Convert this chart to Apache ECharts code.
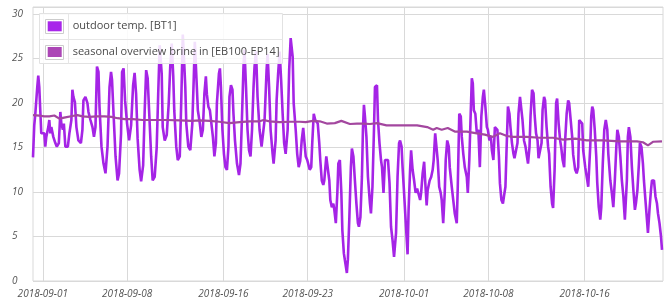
<!DOCTYPE html>
<html>
<head>
<meta charset="utf-8">
<script src="https://cdn.jsdelivr.net/npm/echarts@6/dist/echarts.min.js"></script>
<style>html,body{margin:0;padding:0;background:#fff}#c{width:672px;height:304px}</style>
</head>
<body>
<div id="c"></div>
<script>
// time in hours since 2018-09-01 00:00
const tempHours = [-19.5,-17,-15,-11,-9,-7,-5,-3,3,5,7,11,13,15,17,21,25,28,32,35,37,40,42,45,50,53,57,59,61,64,67,71,76,79,81,85,89,91,95,99,102,105,108,111,113,117,121,125,129,133,136,138,141,145,149,152,156,158,161,164,168,172,176,180,183,186,189,193,196,200,203,206,209,212,216,219,223,227,230,233,237,239,243,247,251,254,257,260,262,266,269,273,276,279,282,284,286,290,294,298,301,303,307,309,313,316,319,322,325,327,330,333,339,342,345,347,351,353,355,358,361,364,367,370,372,375,378,380,383,387,391,394,397,400,402,405,408,411,414,417,420,422,425,428,432,436,439,442,446,448,451,454,458,460,464,466,469,472,475,478,481,484,488,491,494,498,500,504,507,510,513,516,519,521,524,527,529,532,535,537,540,543,545,548,551,553,556,559,561,565,568,571,573,576,579,581,584,587,589,592,595,597,600,603,606,608,611,614,616,619,622,625,628,630,633,636,638,640,642,645,648,652,654,657,660,662,666,668,671,674,676,679,682,685,688,691,694,697,700,704,707,710,712,715,717,720,723,727,729,732,734,737,740,743,746,749,752,754,757,760,762,765,767,771,774,777,779,782,785,787,790,793,795,798,801,803,806,809,811,815,818,821,825,827,830,833,835,838,841,845,847,850,853,855,857,859,862,865,868,871,874,877,879,882,885,887,890,893,895,898,901,903,906,909,911,914,917,919,922,924,927,930,932,935,938,940,943,946,948,951,954,956,959,962,964,967,970,972,975,978,980,983,986,988,991,994,996,999,1001,1004,1007,1009,1012,1015,1017,1020,1023,1025,1028,1031,1033,1036,1039,1041,1044,1047,1049,1052,1055,1057,1061,1064,1067,1069,1072,1075,1077,1081,1084,1087,1091,1093,1095,1097,1100,1103,1105,1108,1111,1113,1116,1119,1122,1125,1127,1131,1134,1137,1140,1143,1145,1148,1151,1154,1157,1160,1164,1166,1168,1171,1174,1177,1180,1182,1185,1188,1190,1193,1196,1198,1201,1204,1206,1209,1212,1214,1218,1221,1224,1226,1229,1232,1234];
const tempValues = [13.9,17.5,18.7,21.8,23.1,21.8,19.2,16.6,16.6,15.1,16.2,17.3,18.1,16.6,17.3,16.2,15.5,15.1,15.5,19.0,17.7,17.0,17.7,15.1,15.1,16.6,18.1,21.5,20.7,20.1,17.3,15.8,15.5,17.0,20.3,20.7,20.0,19.0,18.1,17.3,16.2,17.3,24.1,23.5,19.6,15.1,13.2,12.1,15.1,21.8,23.5,22.6,18.8,14.0,11.3,12.1,16.6,23.5,23.9,20.3,17.7,15.8,17.5,22.0,23.4,21.0,16.0,12.5,11.2,13.0,19.0,23.7,22.8,19.0,14.0,11.3,11.7,15.0,21.0,26.5,23.3,17.3,15.8,16.4,20.0,24.1,26.7,23.0,19.2,15.1,13.6,14.0,20.3,27.7,24.3,21.8,17.7,15.1,14.7,17.7,23.0,26.9,21.8,19.2,17.7,16.2,17.0,21.0,23.0,21.0,19.6,19.2,16.2,14.0,15.5,20.0,23.3,23.9,21.8,17.0,14.3,12.8,12.5,15.1,20.7,22.0,21.5,18.8,15.8,13.2,11.9,13.2,18.5,24.1,26.0,21.8,17.0,14.7,14.0,17.0,21.8,24.1,25.8,20.7,17.0,15.1,14.9,18.1,23.7,25.5,21.8,17.0,14.3,13.2,15.8,20.3,23.3,25.8,22.6,18.8,15.5,14.3,17.0,23.7,27.3,25.2,20.0,17.0,14.3,12.8,13.5,15.8,17.2,17.3,14.0,13.6,13.8,12.5,12.8,15.5,18.8,18.1,18.3,17.7,15.5,13.6,11.3,10.8,11.3,14.0,13.8,11.3,9.1,8.3,8.7,8.0,6.5,9.9,13.2,13.6,9.9,5.7,3.1,2.0,0.9,2.4,7.2,12.8,14.9,14.0,11.3,8.7,6.5,6.1,7.2,11.7,17.0,19.8,18.5,16.2,11.7,8.7,7.6,10.6,17.0,21.8,22.0,18.1,15.5,13.6,12.8,9.9,13.6,13.8,13.6,11.0,6.1,4.6,2.7,5.4,11.7,15.5,15.8,15.1,12.8,9.9,6.9,3.0,8.0,12.5,14.7,12.5,11.3,9.9,10.4,10.6,9.1,9.9,12.1,13.4,11.3,8.5,10.2,11.3,11.7,12.5,13.6,16.6,16.8,13.6,10.6,9.9,9.1,6.5,9.9,13.6,15.8,15.1,12.8,10.6,9.1,7.6,6.5,10.6,18.8,18.5,16.2,14.3,12.8,11.7,9.9,13.6,19.2,22.8,22.2,19.2,18.8,16.6,17.0,12.8,18.5,20.7,21.5,19.6,17.3,17.0,15.8,16.2,14.7,13.6,17.3,17.5,17.0,14.0,11.0,9.1,8.7,9.5,10.6,14.3,19.6,18.8,17.3,15.5,14.3,13.8,13.8,15.5,18.8,20.7,20.5,18.1,15.8,15.1,14.3,13.2,15.1,18.5,21.5,21.1,18.8,16.6,15.8,13.8,13.8,15.5,19.2,20.7,20.3,17.3,15.1,14.3,10.6,8.7,8.2,12.5,20.0,20.5,17.7,15.8,15.1,13.6,12.8,15.8,18.8,20.3,20.0,18.1,16.2,14.2,12.5,12.1,12.8,18.1,18.2,17.7,14.7,12.8,11.7,10.6,15.1,18.5,19.6,19.2,17.0,14.0,11.0,8.3,6.9,8.3,13.2,17.0,18.1,17.0,14.3,11.3,9.9,8.3,11.3,15.1,17.0,16.2,14.0,11.3,9.5,6.9,11.3,16.2,17.3,16.2,12.8,10.2,8.0,8.7,10.2,13.2,15.5,15.1,13.2,11.3,9.1,6.9,5.4,8.0,10.2,11.3,11.3,9.5,8.7,7.6,6.5,5.0,3.5];
const brineHours = [-19.5,-7,3,13,23,33,45,59,69,79,93,107,123,137,149,163,179,199,223,247,273,297,313,333,352,372,392,412,432,440,452,472,492,512,524,538,552,566,582,595,612,626,638,652,666,685,702,722,746,766,778,785,795,807,821,845,865,881,897,911,925,937,964,991,1017,1037,1061,1084,1116,1150,1184,1196,1206,1216,1234];
const brineValues = [18.65,18.6,18.5,18.5,18.6,18.25,18.4,18.55,18.65,18.5,18.45,18.5,18.5,18.45,18.3,18.2,18.2,18.1,18.1,18.1,18.05,18.0,18.05,18.0,17.9,17.75,17.85,17.95,17.95,18.1,17.95,17.85,17.9,17.9,17.85,18.0,17.95,17.7,17.75,18.0,17.65,17.7,17.7,17.65,17.75,17.5,17.5,17.5,17.5,17.3,17.0,17.2,17.0,17.2,16.8,16.8,16.6,16.45,16.2,16.6,16.3,16.2,16.2,16.1,16.1,15.9,16.0,15.8,15.8,15.7,15.7,15.6,15.25,15.65,15.7];
const tickDates = ['2018-09-01','2018-09-08','2018-09-16','2018-09-23','2018-10-01','2018-10-08','2018-10-16'];
const xStartHour = -19.5, xEndHour = 1236;
const seriesNames = ['outdoor temp. [BT1]', 'seasonal overview brine in [EB100-EP14]'];

const BASE = Date.UTC(2018, 8, 1);
const tickHours = tickDates.map(d => (Date.parse(d + 'T00:00:00Z') - BASE) / 3600000);
const fmtDate = v => new Date(BASE + v * 3600000).toISOString().slice(0, 10);
const zip = (a, b) => a.map((x, i) => [x, b[i]]);

const chart = echarts.init(document.getElementById('c'), null, {renderer: 'canvas'});
const grey = '#d9d9d9';
const labelFont = {fontFamily: 'Open Sans', fontStyle: 'italic', fontSize: 10, color: '#545454'};
chart.setOption({
  animation: false,
  grid: {left: 33, right: 9, top: 7, bottom: 23, show: true, borderColor: grey, borderWidth: 1},
  xAxis: {
    type: 'value', min: xStartHour, max: xEndHour,
    axisLine: {show: false},
    axisTick: {show: false, customValues: tickHours},
    axisLabel: Object.assign({customValues: tickHours, margin: 8, formatter: fmtDate}, labelFont),
    splitLine: {show: true, lineStyle: {color: grey, width: 1}}
  },
  yAxis: {
    type: 'value', min: 0, max: 30.8, interval: 5,
    axisLine: {show: false}, axisTick: {show: false},
    axisLabel: Object.assign({align: 'left', margin: 21, showMaxLabel: false}, labelFont),
    splitLine: {show: true, lineStyle: {color: grey, width: 1}}
  },
  legend: {
    orient: 'vertical', left: 47.7, top: 19.3, padding: 0, itemGap: 11.7,
    itemWidth: 14, itemHeight: 10, icon: 'rect', selectedMode: false, z: 120,
    textStyle: {fontFamily: 'Open Sans', fontSize: 11, color: '#4a4a4a', lineHeight: 14, padding: [0, 0, 0, 6]},
    data: seriesNames
  },
  graphic: [
    {type: 'rect', z: 100, shape: {x: 39.5, y: 13.5, width: 243, height: 50}, style: {fill: 'rgba(255,255,255,0.86)', stroke: '#e2e2e2', lineWidth: 1}},
    {type: 'line', z: 101, shape: {x1: 39.5, y1: 39.5, x2: 282.5, y2: 39.5}, style: {stroke: '#e6e6e6', lineWidth: 1}},
    {type: 'line', z: 101, shape: {x1: 68.5, y1: 13.5, x2: 68.5, y2: 63.5}, style: {stroke: '#e6e6e6', lineWidth: 1}},
    {type: 'rect', z: 101, shape: {x: 45.5, y: 19.5, width: 18, height: 14}, style: {fill: '#fff', stroke: '#cccccc', lineWidth: 1}},
    {type: 'rect', z: 101, shape: {x: 45.5, y: 45.5, width: 18, height: 14}, style: {fill: '#fff', stroke: '#cccccc', lineWidth: 1}}
  ],
  series: [
    {
      name: seriesNames[0], type: 'line', showSymbol: false, symbol: 'none', z: 1,
      data: zip(tempHours, tempValues),
      itemStyle: {color: '#a826ea'},
      lineStyle: {color: '#a524e6', width: 2.6}
    },
    {
      name: seriesNames[1], type: 'line', showSymbol: false, symbol: 'none', z: 1,
      data: zip(brineHours, brineValues),
      itemStyle: {color: '#ac46b6'},
      lineStyle: {color: '#a3479f', width: 2.2}
    }
  ]
});
</script>
</body>
</html>
